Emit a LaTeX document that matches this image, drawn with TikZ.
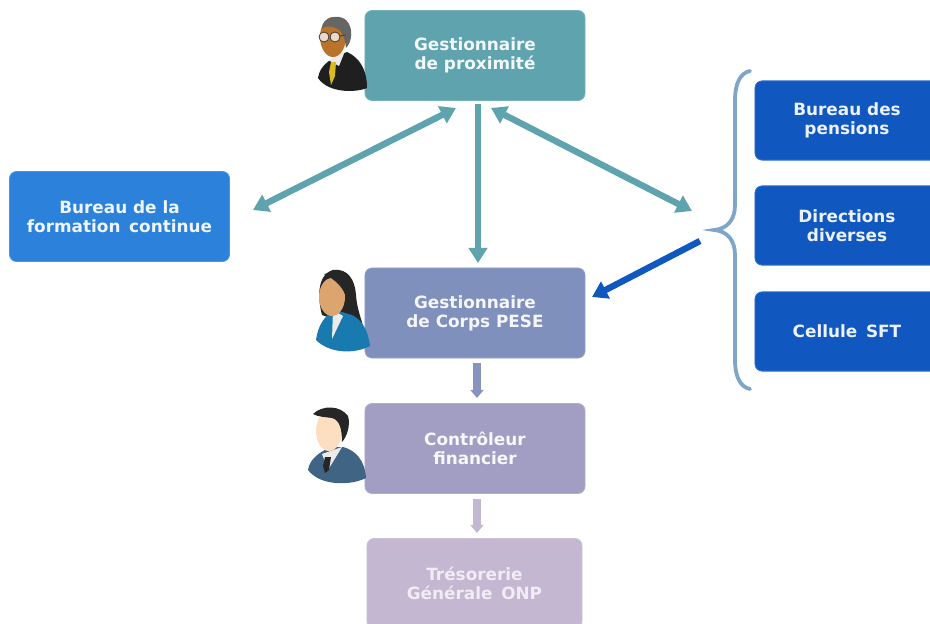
\documentclass[tikz,border=0pt]{standalone}
\usepackage{fontspec}
\setmainfont{DejaVu Sans}
\usetikzlibrary{arrows.meta}
\definecolor{tealbox}{HTML}{5FA3AE}
\definecolor{bluebox}{HTML}{2C81DA}
\definecolor{darkbox}{HTML}{1057C0}
\definecolor{corpsbox}{HTML}{7F90BC}
\definecolor{ctrlbox}{HTML}{A29DC3}
\definecolor{tresorbox}{HTML}{C3B7D1}
\definecolor{bracecol}{HTML}{7FA6C8}
\tikzset{
  service/.style={rounded corners=0.18cm,minimum width=5.5cm,minimum height=2.25cm,align=center,
    text=white!92!#1,font=\fontsize{12}{13.5}\selectfont\bfseries,draw=#1!85!white,line width=0.6pt,fill=#1},
  fleche/.style={draw=#1,line width=0.16cm,-{Triangle[length=0.38cm,width=0.46cm]}},
  doublefleche/.style={draw=#1,line width=0.16cm,{Triangle[length=0.38cm,width=0.46cm]}-{Triangle[length=0.38cm,width=0.46cm]}}
}
\begin{document}
\begin{tikzpicture}[x=0.025cm,y=-0.025cm]
  \useasboundingbox (0,0) rectangle (930,624);
  \clip (0,0) rectangle (930,624);

  % boites
  \node[service=tealbox] (proximite) at (475,55.5) {Gestionnaire\\de proximité};
  \node[service=bluebox] (formation) at (119.5,216.5) {Bureau de la\\formation\, continue};
  \node[service=corpsbox] (corps) at (475,313) {Gestionnaire\\de Corps PESE};
  \node[service=ctrlbox] (controleur) at (475,448.5) {Contrôleur\\financier};
  \node[service=tresorbox,minimum width=5.375cm,text=white!75!tresorbox] (tresorerie) at (474.5,583.5) {Trésorerie\\Générale\, ONP};
  \node[service=darkbox,minimum width=4.6cm,minimum height=1.98cm] (pensions) at (847,120.5) {Bureau des\\pensions};
  \node[service=darkbox,minimum width=4.6cm,minimum height=1.98cm] (directions) at (847,225.5) {Directions\\diverses};
  \node[service=darkbox,minimum width=4.6cm,minimum height=1.98cm] (cellule) at (847,331.5) {Cellule\, SFT};

  % bouts libres
  \coordinate (gauchehaut) at (456,108);
  \coordinate (gauchebas) at (253,210);
  \coordinate (droitehaut) at (491,108);
  \coordinate (droitebas) at (692,211);
  \coordinate (centrehaut) at (478,104);
  \coordinate (centrebas) at (478,263);
  \coordinate (accolade) at (700,241);
  \coordinate (corpsdroite) at (592,297);
  \coordinate (corpsbas) at (477,363);
  \coordinate (ctrlhaut) at (477,398);
  \coordinate (ctrlbas) at (477,499);
  \coordinate (tresorhaut) at (477,533);

  % fleches
  \draw[doublefleche=tealbox] (gauchehaut) -- (gauchebas);
  \draw[doublefleche=tealbox] (droitehaut) -- (droitebas);
  \draw[fleche=tealbox] (centrehaut) -- (centrebas);
  \draw[fleche=darkbox] (accolade) -- (corpsdroite);
  \draw[draw=corpsbox!70!ctrlbox,line width=0.2cm,-{Triangle[length=0.2cm,width=0.32cm]}] (corpsbas) -- (ctrlhaut);
  \draw[draw=tresorbox,line width=0.2cm,-{Triangle[length=0.2cm,width=0.32cm]}] (ctrlbas) -- (tresorhaut);

  % accolade
  \draw[bracecol,line width=0.095cm,line cap=round] (750,71) .. controls (740,73) and (735,84) .. (735,100)
    -- (735,205) .. controls (735,220) and (727,229) .. (714,230)
    .. controls (727,231) and (735,240) .. (735,255)
    -- (735,360) .. controls (735,376) and (740,387) .. (750,389);

  % gestionnaire de proximite
  \fill[black!88] (318,78) .. controls (320,64) and (332,58) .. (347,52) .. controls (360,58) and (367,70) .. (367,88)
    .. controls (355,93) and (328,93) .. (318,78) -- cycle;
  \fill[white!92!black] (328,60) -- (345,51) -- (339,66) -- cycle;
  \fill[yellow!70!orange!85!black] (331,62) -- (336,62) -- (335,76) -- (331,85) -- (329,72) -- cycle;
  \fill[brown!75!orange!90!black] (333,37) ellipse (13 and 20);
  \fill[black!60] (322,28) .. controls (322,18) and (338,13) .. (346,20) .. controls (354,28) and (352,42) .. (346,48)
    .. controls (345,38) and (342,30) .. (336,28) .. controls (330,26) and (326,26) .. (322,28) -- cycle;
  \draw[black!75,line width=0.6pt,fill=white!70!brown] (324,37) circle (5);
  \draw[black!75,line width=0.6pt,fill=white!70!brown] (335,37) circle (5);
  \draw[black!75,line width=0.6pt] (340,36) -- (346,35);

  % gestionnaire de corps
  \fill[black!85] (333,270) .. controls (348,268) and (355,280) .. (356,295) .. controls (357,310) and (362,320) .. (364,330)
    -- (322,315) .. controls (318,300) and (316,275) .. (333,270) -- cycle;
  \fill[blue!35!cyan!65!black!90!white] (316,340) .. controls (318,325) and (325,315) .. (335,310) -- (352,315)
    .. controls (362,320) and (368,330) .. (370,346) .. controls (355,354) and (330,354) .. (316,340) -- cycle;
  \fill[white!92!black] (333,310) -- (343,316) -- (332,339) -- cycle;
  \fill[brown!65!white!85!orange] (332,297) ellipse (13 and 19);
  \fill[black!85] (324,274) .. controls (338,270) and (348,280) .. (346,298) .. controls (344,288) and (336,280) .. (324,274) -- cycle;

  % controleur
  \fill[blue!45!cyan!35!black!75] (308,470) .. controls (310,458) and (320,452) .. (331,447) -- (343,447)
    .. controls (355,450) and (365,460) .. (366,478) .. controls (350,486) and (320,486) .. (308,470) -- cycle;
  \fill[white!92!black] (322,454) -- (342,447) -- (328,470) -- cycle;
  \fill[black!85] (325,457) -- (331,457) -- (329,470) -- (325,473) -- (323,466) -- cycle;
  \fill[orange!22!white!95!brown] (329,431) ellipse (13 and 20);
  \fill[black!85] (313,414) .. controls (322,405) and (340,405) .. (348,416) .. controls (351,426) and (346,438) .. (342,442)
    .. controls (342,430) and (340,420) .. (332,418) .. controls (326,417) and (318,417) .. (313,414) -- cycle;
\end{tikzpicture}
\end{document}
